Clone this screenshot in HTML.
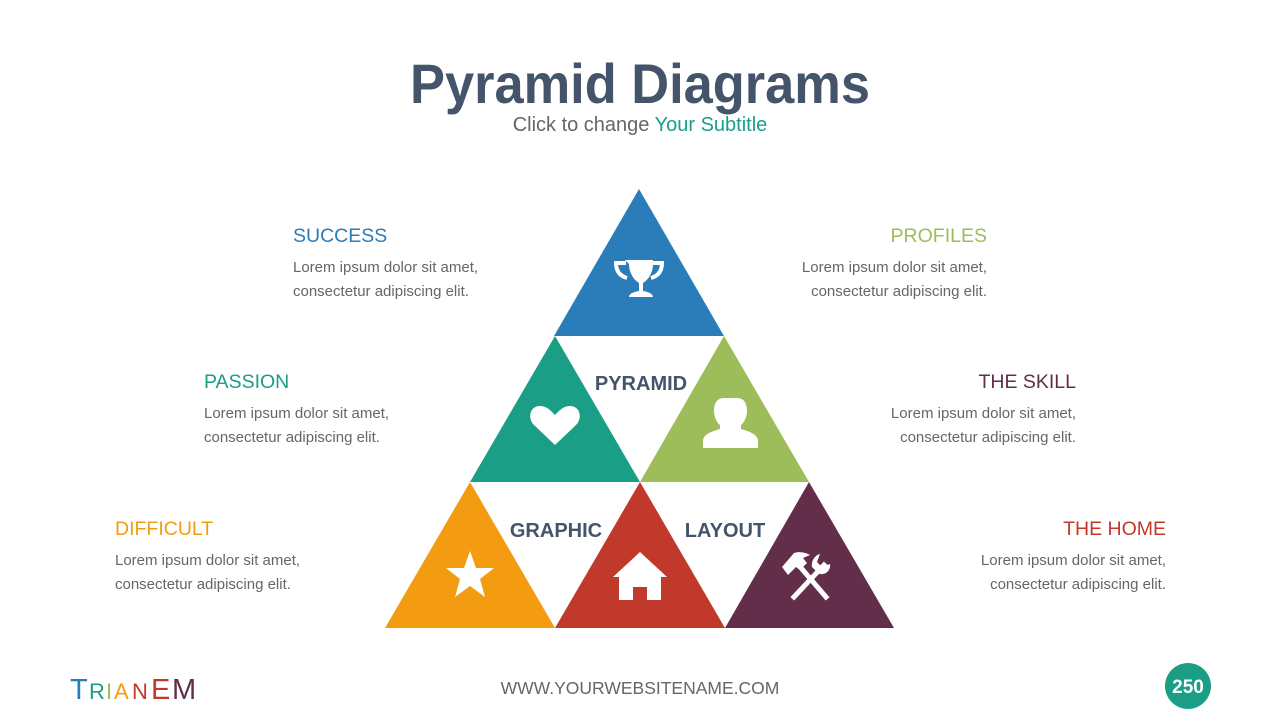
<!DOCTYPE html>
<html><head><meta charset="utf-8"><style>
html,body{margin:0;padding:0;background:#fff}
svg{display:block}
text{font-family:"Liberation Sans",sans-serif}
</style></head><body>
<svg width="1280" height="720" viewBox="0 0 1280 720" xmlns="http://www.w3.org/2000/svg">
<text x="640" y="103" text-anchor="middle" font-size="56" font-weight="bold" fill="#44546a" textLength="460" lengthAdjust="spacingAndGlyphs">Pyramid Diagrams</text>
<text x="640" y="131" text-anchor="middle" font-size="20" fill="#666">Click to change <tspan fill="#1aa08a">Your Subtitle</tspan></text>

<polygon points="639,189 554,336 724,336" fill="#2a7db8"/>
<polygon points="555,336 470,482 640,482" fill="#1a9e85"/>
<polygon points="724,336 640,482 809,482" fill="#9dbd5a"/>
<polygon points="470,482 385,628 555,628" fill="#f39c12"/>
<polygon points="640,482 555,628 725,628" fill="#c0392b"/>
<polygon points="809,482 725,628 894,628" fill="#622e49"/>

<text x="641" y="390" text-anchor="middle" font-size="20" font-weight="bold" fill="#44546a">PYRAMID</text>
<text x="556" y="537" text-anchor="middle" font-size="20" font-weight="bold" fill="#44546a">GRAPHIC</text>
<text x="725" y="537" text-anchor="middle" font-size="20" font-weight="bold" fill="#44546a">LAYOUT</text>

<!-- trophy -->
<g fill="#fff">
<path d="M625 260 h28 v4 c0 9-5 16-10 19 v8 c6 1 10 3 10 6 h-24 c0-3 4-5 10-6 v-8 c-5-3-10-10-10-19z"/>
</g>
<path d="M626 263 h-10 c0 8 4 13 11 15 M652 263 h10 c0 8-4 13-11 15" stroke="#fff" stroke-width="4" fill="none"/>
<!-- heart -->
<path d="M555 445 l-21-20 c-7-7-4-19 6-19 c7 0 11 5 15 9 c4-4 8-9 15-9 c10 0 13 12 6 19z" fill="#fff"/>
<!-- person -->
<path d="M724 398 c-8 0-10 7-10 13 c0 6 3 12 6 14 v4 c-7 2-17 5-17 12 v7 h55 v-7 c0-7-10-10-17-12 v-4 c3-2 6-8 6-14 c0-6-2-13-10-13z" fill="#fff"/>
<!-- star -->
<polygon points="470,551 476,568 494,568 480,579 485,597 470,586 455,597 460,579 446,568 464,568" fill="#fff"/>
<!-- house -->
<path d="M640 552 l-27 25 h6 v23 h14 v-13 h14 v13 h14 v-23 h6z" fill="#fff"/>
<!-- tools -->
<g stroke="#fff" stroke-linecap="square" fill="none">
<line x1="794" y1="597" x2="824" y2="565" stroke-width="5"/>
<line x1="826" y1="597" x2="802" y2="569" stroke-width="5"/>
</g>
<path d="M782 567 l12-14 c6-2 12 0 16 2 l-7 3 l4 5 l-7 7 l-4-3 l-8 8z" fill="#fff"/>
<path d="M820 554 l-3 8 l5 5 l8-3 c1 6-4 11-10 10 l-3-2 l-5-5 c-1-6 3-12 8-13z" fill="#fff"/>

<g font-size="19.5">
<text x="293" y="242" fill="#2a7db8">SUCCESS</text>
<text x="204" y="388" fill="#1a9e85">PASSION</text>
<text x="115" y="535" fill="#f39c12">DIFFICULT</text>
<text x="987" y="242" text-anchor="end" fill="#9dbd5a">PROFILES</text>
<text x="1076" y="388" text-anchor="end" fill="#622e49">THE SKILL</text>
<text x="1166" y="535" text-anchor="end" fill="#c0392b">THE HOME</text>
</g>
<g font-size="15" fill="#666">
<text x="293" y="272">Lorem ipsum dolor sit amet,</text>
<text x="293" y="296">consectetur adipiscing elit.</text>
<text x="204" y="418">Lorem ipsum dolor sit amet,</text>
<text x="204" y="442">consectetur adipiscing elit.</text>
<text x="115" y="565">Lorem ipsum dolor sit amet,</text>
<text x="115" y="589">consectetur adipiscing elit.</text>
<g text-anchor="end">
<text x="987" y="272">Lorem ipsum dolor sit amet,</text>
<text x="987" y="296">consectetur adipiscing elit.</text>
<text x="1076" y="418">Lorem ipsum dolor sit amet,</text>
<text x="1076" y="442">consectetur adipiscing elit.</text>
<text x="1166" y="565">Lorem ipsum dolor sit amet,</text>
<text x="1166" y="589">consectetur adipiscing elit.</text>
</g>
</g>

<text x="640" y="694" text-anchor="middle" font-size="17.5" fill="#666">WWW.YOURWEBSITENAME.COM</text>
<circle cx="1188" cy="686" r="23" fill="#1a9e85"/>
<text x="1188" y="693" text-anchor="middle" font-size="19" font-weight="bold" fill="#fff" font-family="Liberation Serif">250</text>

<g font-size="29">
<text x="70" y="699" fill="#2a7db8">T</text>
<text x="89" y="699" font-size="22" fill="#1a9e85">R</text>
<text x="106" y="699" font-size="22" fill="#9dbd5a">I</text>
<text x="114" y="699" font-size="22" fill="#f39c12">A</text>
<text x="132" y="699" font-size="22" fill="#c0392b">N</text>
<text x="151" y="699" fill="#c0392b">E</text>
<text x="172" y="699" fill="#622e49">M</text>
</g>
</svg>
</body></html>
